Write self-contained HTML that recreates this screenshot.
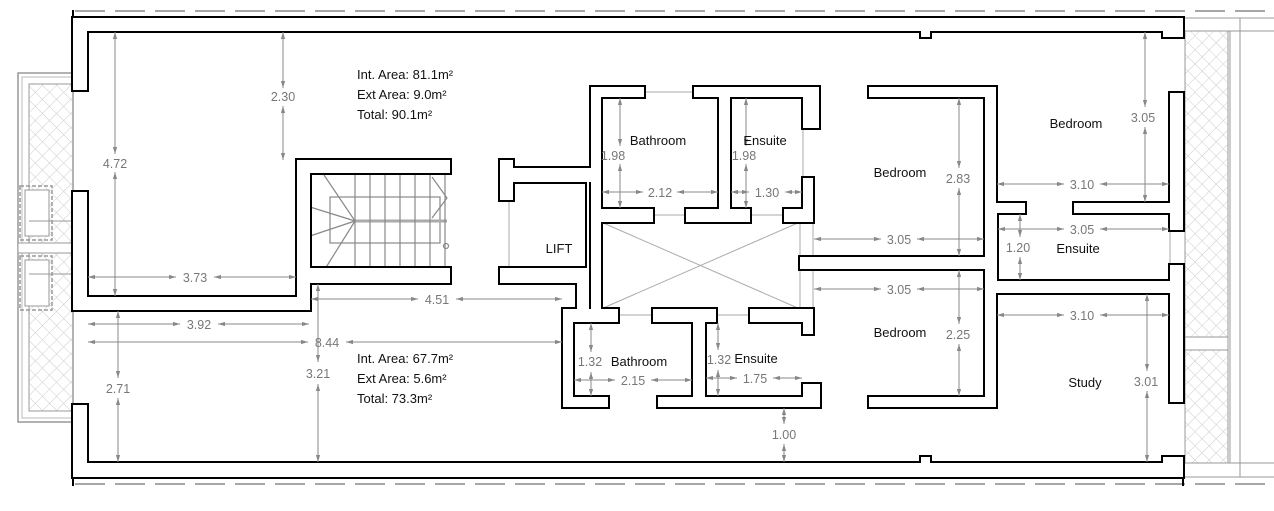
<!DOCTYPE html>
<html><head><meta charset="utf-8"><style>
html,body{margin:0;padding:0;background:#fff;}
svg{display:block;}
.d{font-family:"Liberation Sans",sans-serif;font-size:12.5px;fill:#777;text-anchor:middle;}
.r{font-family:"Liberation Sans",sans-serif;font-size:13px;fill:#111;text-anchor:middle;}
.a{font-family:"Liberation Sans",sans-serif;font-size:13px;fill:#111;}
</style></head><body>
<svg width="1274" height="511" viewBox="0 0 1274 511" xmlns="http://www.w3.org/2000/svg">
<defs>
<pattern id="h" width="10" height="10" patternUnits="userSpaceOnUse" patternTransform="rotate(45)">
<path d="M0 0V10M0 0H10" stroke="#ccc" stroke-width="1" fill="none"/>
</pattern>
<marker id="m" viewBox="0 0 10 10" refX="10" refY="5" markerWidth="7" markerHeight="7" orient="auto-start-reverse">
<path d="M0 2L10 5L0 8z" fill="#888"/></marker>
</defs>
<g stroke="#888" stroke-width="1.5" stroke-dasharray="30,10" fill="none">
<line x1="75" y1="11" x2="1274" y2="11"/>
<line x1="75" y1="484" x2="1274" y2="484"/>
</g>
<g stroke="#999" stroke-width="1" fill="none">
<line x1="1183" y1="18" x2="1274" y2="18"/><line x1="1183" y1="31" x2="1274" y2="31"/>
<line x1="1183" y1="463" x2="1274" y2="463"/><line x1="1183" y1="477" x2="1274" y2="477"/>
<line x1="1230" y1="31" x2="1230" y2="463"/><line x1="1240" y1="18" x2="1240" y2="477"/>
</g>
<rect x="1185" y="31" width="43" height="306" fill="url(#h)" stroke="#999"/>
<rect x="1185" y="350" width="43" height="113" fill="url(#h)" stroke="#999"/>
<rect x="1185" y="337" width="43" height="13" fill="#fff" stroke="#999"/>
<rect x="18" y="73" width="55" height="349" fill="#fff" stroke="#999" stroke-width="1.5"/>
<rect x="22" y="77" width="51" height="341" fill="none" stroke="#bbb"/>
<rect x="29" y="84" width="44" height="327" fill="url(#h)" stroke="#999"/>
<rect x="18" y="243" width="55" height="10" fill="#fff" stroke="#999"/>
<g fill="none" stroke="#999" stroke-dasharray="4,2" stroke-width="1.5">
<rect x="20" y="186" width="32" height="54"/><rect x="20" y="256" width="32" height="54"/></g>
<g fill="none" stroke="#999"><rect x="25" y="190" width="24" height="46" fill="#fff"/><rect x="25" y="260" width="24" height="46" fill="#fff"/>
<line x1="29" y1="221" x2="73" y2="221"/><line x1="29" y1="274" x2="73" y2="274"/></g>
<line x1="73" y1="10" x2="73" y2="18" stroke="#000" stroke-width="2"/>
<line x1="73" y1="477" x2="73" y2="486" stroke="#000" stroke-width="2"/>
<line x1="1183" y1="477" x2="1183" y2="486" stroke="#000" stroke-width="2"/>
<g stroke="#888" fill="none" stroke-width="1.2">
<rect x="330" y="197" width="110" height="46"/>
<line x1="355" y1="221" x2="447" y2="221" stroke-width="3" stroke="#aaa"/>
<path d="M355 173V269M370 173V269M385 173V269M400 173V269M415 173V269M430 173V269M445 173V269"/>
<path d="M355 221L324 175M355 221L310 207M355 221L310 236M355 221L325 269"/>
<path d="M432 177L447 198L432 218"/>
<circle cx="446" cy="246" r="2.5"/>
</g>
<g stroke="#aaa" fill="none"><line x1="601" y1="222" x2="800" y2="309"/><line x1="800" y1="222" x2="601" y2="309"/>
<line x1="813" y1="222" x2="813" y2="257"/><line x1="813" y1="269" x2="813" y2="309"/><line x1="800" y1="222" x2="800" y2="309"/>
<line x1="644" y1="92" x2="694" y2="92"/><line x1="653" y1="215" x2="686" y2="215"/><line x1="750" y1="215" x2="784" y2="215"/>
<line x1="618" y1="315" x2="653" y2="315"/><line x1="716" y1="315" x2="750" y2="315"/>
<line x1="803" y1="128" x2="803" y2="178"/><line x1="1170" y1="230" x2="1170" y2="265"/>
<line x1="509" y1="200" x2="509" y2="268"/></g>
<g id="w">
<rect x="73" y="18" width="1110" height="13"/>
<rect x="73" y="463" width="1110" height="14"/>
<rect x="73" y="18" width="14" height="72"/>
<rect x="73" y="192" width="14" height="118"/>
<rect x="73" y="405" width="14" height="72"/>
<rect x="73" y="297" width="237" height="13"/>
<rect x="297" y="160" width="13" height="150"/>
<rect x="297" y="160" width="153" height="13"/>
<rect x="310" y="268" width="140" height="15"/>
<rect x="921" y="31" width="9" height="6"/><rect x="921" y="457" width="9" height="6"/>
<rect x="1170" y="18" width="13" height="19"/><rect x="1170" y="457" width="13" height="20"/>
<rect x="1163" y="31" width="20" height="6"/><rect x="1163" y="457" width="20" height="6"/>
<rect x="1170" y="93" width="13" height="137"/>
<rect x="1170" y="265" width="13" height="137"/>
<rect x="500" y="160" width="13" height="40"/>
<rect x="500" y="168" width="91" height="14"/>
<rect x="587" y="168" width="2" height="100"/>
<rect x="500" y="268" width="89" height="15"/>
<rect x="577" y="268" width="12" height="42"/>
<rect x="591" y="87" width="53" height="10"/>
<rect x="694" y="87" width="125" height="10"/>
<rect x="591" y="87" width="10" height="222"/>
<rect x="719" y="87" width="11" height="130"/>
<rect x="803" y="87" width="16" height="41"/>
<rect x="803" y="178" width="10" height="44"/>
<rect x="591" y="209" width="62" height="13"/>
<rect x="686" y="209" width="64" height="13"/>
<rect x="784" y="209" width="29" height="13"/>
<rect x="563" y="309" width="55" height="13"/>
<rect x="653" y="309" width="63" height="13"/>
<rect x="750" y="309" width="63" height="13"/>
<rect x="803" y="309" width="10" height="25"/>
<rect x="563" y="309" width="10" height="98"/>
<rect x="563" y="397" width="45" height="10"/>
<rect x="658" y="397" width="162" height="10"/>
<rect x="693" y="309" width="12" height="98"/>
<rect x="803" y="384" width="17" height="23"/>
<rect x="800" y="257" width="196" height="12"/>
<rect x="869" y="87" width="127" height="10"/>
<rect x="985" y="87" width="11" height="126"/>
<rect x="985" y="203" width="40" height="10"/>
<rect x="1074" y="203" width="109" height="10"/>
<rect x="985" y="213" width="12" height="80"/>
<rect x="985" y="281" width="198" height="12"/>
<rect x="985" y="269" width="11" height="138"/>
<rect x="869" y="397" width="127" height="10"/>
</g>
<use href="#w" fill="#000" stroke="#000" stroke-width="4"/>
<use href="#w" fill="#fff" stroke="none"/>
<g stroke="#888" stroke-width="1" marker-start="url(#m)" marker-end="url(#m)">
<line x1="283" y1="32" x2="283" y2="88"/><line x1="283" y1="106" x2="283" y2="160"/>
<line x1="115" y1="32" x2="115" y2="154"/><line x1="115" y1="172" x2="115" y2="296"/>
<line x1="88" y1="277" x2="176" y2="277"/><line x1="214" y1="277" x2="296" y2="277"/>
<line x1="311" y1="299" x2="418" y2="299"/><line x1="456" y1="299" x2="562" y2="299"/>
<line x1="88" y1="324" x2="180" y2="324"/><line x1="218" y1="324" x2="309" y2="324"/>
<line x1="88" y1="342" x2="308" y2="342"/><line x1="346" y1="342" x2="562" y2="342"/>
<line x1="118" y1="311" x2="118" y2="378"/><line x1="118" y1="398" x2="118" y2="462"/>
<line x1="318" y1="284" x2="318" y2="362"/><line x1="318" y1="384" x2="318" y2="462"/>
<line x1="620" y1="98" x2="620" y2="146"/><line x1="620" y1="164" x2="620" y2="208"/>
<line x1="602" y1="192" x2="643" y2="192"/><line x1="677" y1="192" x2="718" y2="192"/>
<line x1="746" y1="98" x2="746" y2="146"/><line x1="746" y1="164" x2="746" y2="208"/>
<line x1="731" y1="192" x2="749" y2="192"/><line x1="785" y1="192" x2="802" y2="192"/>
<line x1="959" y1="98" x2="959" y2="168"/><line x1="959" y1="188" x2="959" y2="256"/>
<line x1="814" y1="239" x2="881" y2="239"/><line x1="917" y1="239" x2="984" y2="239"/>
<line x1="814" y1="289" x2="881" y2="289"/><line x1="917" y1="289" x2="984" y2="289"/>
<line x1="959" y1="270" x2="959" y2="324"/><line x1="959" y1="344" x2="959" y2="396"/>
<line x1="997" y1="184" x2="1064" y2="184"/><line x1="1100" y1="184" x2="1169" y2="184"/>
<line x1="1145" y1="32" x2="1145" y2="107"/><line x1="1145" y1="127" x2="1145" y2="202"/>
<line x1="998" y1="229" x2="1064" y2="229"/><line x1="1100" y1="229" x2="1169" y2="229"/>
<line x1="1020" y1="214" x2="1020" y2="237"/><line x1="1020" y1="257" x2="1020" y2="280"/>
<line x1="997" y1="315" x2="1064" y2="315"/><line x1="1100" y1="315" x2="1169" y2="315"/>
<line x1="1147" y1="294" x2="1147" y2="371"/><line x1="1147" y1="391" x2="1147" y2="462"/>
<line x1="784" y1="408" x2="784" y2="424"/><line x1="784" y1="444" x2="784" y2="462"/>
<line x1="591" y1="323" x2="591" y2="352"/><line x1="591" y1="372" x2="591" y2="396"/>
<line x1="574" y1="380" x2="615" y2="380"/><line x1="651" y1="380" x2="692" y2="380"/>
<line x1="718" y1="323" x2="718" y2="350"/><line x1="718" y1="370" x2="718" y2="396"/>
<line x1="706" y1="378" x2="737" y2="378"/><line x1="773" y1="378" x2="802" y2="378"/>
</g>
<g class="d">
<text x="283" y="101">2.30</text><text x="115" y="168">4.72</text><text x="195" y="282">3.73</text>
<text x="437" y="304">4.51</text><text x="199" y="329">3.92</text><text x="327" y="347">8.44</text>
<text x="118" y="393">2.71</text><text x="318" y="378">3.21</text>
<text x="613" y="160">1.98</text><text x="660" y="197">2.12</text>
<text x="744" y="160">1.98</text><text x="767" y="197">1.30</text>
<text x="958" y="183">2.83</text><text x="899" y="244">3.05</text><text x="899" y="294">3.05</text>
<text x="958" y="339">2.25</text><text x="1082" y="189">3.10</text><text x="1143" y="122">3.05</text>
<text x="1082" y="234">3.05</text><text x="1018" y="252">1.20</text><text x="1082" y="320">3.10</text>
<text x="1146" y="386">3.01</text><text x="784" y="439">1.00</text>
<text x="590" y="366">1.32</text><text x="633" y="385">2.15</text>
<text x="719" y="364">1.32</text><text x="755" y="383">1.75</text>
</g>
<g class="r">
<text x="658" y="145">Bathroom</text><text x="765" y="145">Ensuite</text>
<text x="900" y="177">Bedroom</text><text x="1076" y="128">Bedroom</text>
<text x="1078" y="253">Ensuite</text><text x="900" y="337">Bedroom</text>
<text x="1085" y="387">Study</text><text x="639" y="366">Bathroom</text>
<text x="756" y="363">Ensuite</text><text x="559" y="253">LIFT</text>
</g>
<g class="a">
<text x="357" y="79">Int. Area: 81.1m²</text><text x="357" y="99">Ext Area: 9.0m²</text><text x="357" y="119">Total: 90.1m²</text>
<text x="357" y="363">Int. Area: 67.7m²</text><text x="357" y="383">Ext Area: 5.6m²</text><text x="357" y="403">Total: 73.3m²</text>
</g>
</svg>
</body></html>
